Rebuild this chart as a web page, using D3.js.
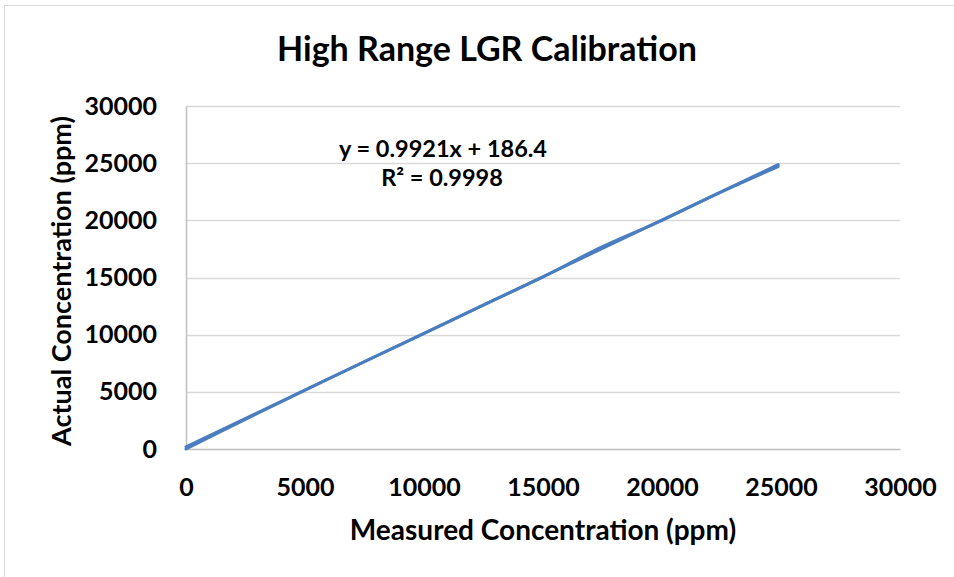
<!DOCTYPE html>
<html>
<head>
<meta charset="utf-8">
<script src="https://cdn.jsdelivr.net/npm/d3@7"></script>
<style>
  html, body { margin: 0; padding: 0; background: #fff; }
  svg { display: block; font-family: Lato, "Open Sans", sans-serif; }
</style>
</head>
<body>
<script>
// Calibration readings: instrument reading vs. reference gas concentration
const measured = [0, 2600, 5150, 7700, 10050, 12600, 15050, 17300, 20000, 22450, 24880];
const actual   = [0, 2700, 5300, 7850, 10150, 12700, 15100, 17500, 20000, 22450, 24700];

// Linear fit reported on the chart
const slope = 0.9921;
const intercept = 186.4;
const rSquared = 0.9998;

const xTicks = [0, 5000, 10000, 15000, 20000, 25000, 30000];
const yTicks = [0, 5000, 10000, 15000, 20000, 25000, 30000];

const W = 954, H = 577;
const plot = { left: 186, right: 900, top: 106, bottom: 449 };
const blue = "#4a7ebf";

const svg = d3.select("body").append("svg").attr("width", W).attr("height", H);

// chart frame
svg.append("rect").attr("x", 4.5).attr("y", 5.5).attr("width", W + 10).attr("height", H + 10)
  .attr("fill", "#fff").attr("stroke", "#d9d9d9").attr("stroke-width", 1);

const x = d3.scaleLinear().domain([0, 30000]).range([plot.left, plot.right]);
const y = d3.scaleLinear().domain([0, 30000]).range([plot.bottom, plot.top]);

// horizontal gridlines
svg.append("g").selectAll("line").data(yTicks.filter(v => v > 0)).join("line")
  .attr("x1", plot.left).attr("x2", plot.right)
  .attr("y1", d => Math.round(y(d)) + 0.5).attr("y2", d => Math.round(y(d)) + 0.5)
  .attr("stroke", "#d9d9d9").attr("stroke-width", 1.5);

// axes
const fmt = d3.format("d");
const tickFont = 25;
const xAxis = svg.append("g").attr("transform", `translate(0,${plot.bottom})`)
  .call(d3.axisBottom(x).tickValues(xTicks).tickFormat(fmt).tickSize(0).tickPadding(29));
const yAxis = svg.append("g").attr("transform", `translate(${plot.left},0)`)
  .call(d3.axisLeft(y).tickValues(yTicks).tickFormat(fmt).tickSize(0).tickPadding(29));

[xAxis, yAxis].forEach(g => {
  g.select(".domain").attr("stroke", "#bfbfbf").attr("stroke-width", 1.5);
  g.selectAll("text").attr("font-family", "Lato, sans-serif").attr("font-weight", "bold")
    .attr("font-size", tickFont).attr("fill", "#000");
});

// measured series, smoothed line through the readings
const pts = measured.map((m, i) => [m, actual[i]]);
svg.append("path").datum(pts)
  .attr("d", d3.line().x(d => x(d[0])).y(d => y(d[1])).curve(d3.curveCatmullRom))
  .attr("fill", "none").attr("stroke", blue).attr("stroke-width", 3).attr("stroke-linecap", "round");

// linear trendline over the measured range
const xMin = d3.min(measured), xMax = d3.max(measured);
svg.append("path").datum([xMin, xMax])
  .attr("d", d3.line().x(d => x(d)).y(d => y(slope * d + intercept)))
  .attr("fill", "none").attr("stroke", blue).attr("stroke-width", 3).attr("stroke-linecap", "round");

// title
svg.append("text").attr("x", 487).attr("y", 61).attr("text-anchor", "middle")
  .attr("font-size", 34).attr("font-weight", "bold").attr("fill", "#000")
  .text("High Range LGR Calibration");

// axis titles
svg.append("text").attr("x", 543).attr("y", 540).attr("text-anchor", "middle")
  .attr("font-size", 28).attr("font-weight", "bold").attr("fill", "#000")
  .text("Measured Concentration (ppm)");
svg.append("text").attr("transform", "translate(71,281) rotate(-90)").attr("text-anchor", "middle")
  .attr("font-size", 27).attr("font-weight", "bold").attr("fill", "#000")
  .text("Actual Concentration (ppm)");

// fit equation
svg.append("text").attr("x", 443).attr("y", 157).attr("text-anchor", "middle")
  .attr("font-size", 23.5).attr("font-weight", "bold").attr("fill", "#000")
  .text(`y = ${slope}x + ${intercept}`);
svg.append("text").attr("x", 442).attr("y", 186).attr("text-anchor", "middle")
  .attr("font-size", 23.5).attr("font-weight", "bold").attr("fill", "#000")
  .text(`R² = ${rSquared}`);
</script>
</body>
</html>
